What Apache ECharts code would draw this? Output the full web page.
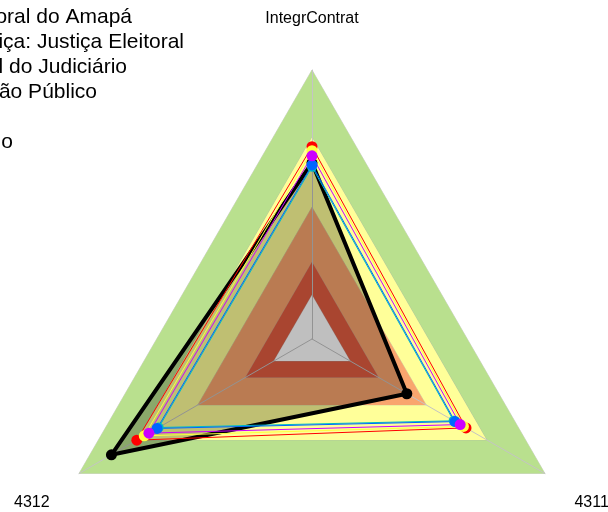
<!DOCTYPE html>
<html>
<head>
<meta charset="utf-8">
<script src="https://cdn.jsdelivr.net/npm/echarts@6/dist/echarts.min.js"></script>
<style>
  html, body { margin: 0; padding: 0; background: #fff; }
  #chart { width: 608px; height: 512px; }
</style>
</head>
<body>
<div id="chart"></div>
<script>
// eixos do radar (ordem do echarts: topo, esquerda, direita)
var indicadores = ['IntegrContrat', '4312', '4311'];

// faixas de fundo (do maior para o menor)
var faixas = [1, 0.75, 0.49, 0.286, 0.164];
var faixasCores = ['#B9E08E', '#FFFF99', '#F9A56E', '#E25C41', '#FFFFFF'];

// séries
var nomes = [
  'Tribunal Regional Eleitoral do Amapá',
  'Segmento de Justiça: Justiça Eleitoral',
  'Poder Judiciário: Total do Judiciário',
  'Total da Administração Público',
  'Referência',
  'Máximo'
];
var treAP      = [0.655, 0.861, 0.407];
var segmento   = [0.715, 0.752, 0.661];
var judiciario = [0.681, 0.700, 0.636];
var publico    = [0.647, 0.665, 0.614];
var referencia = [0.700, 0.720, 0.650];
var maximo     = [0.640, 0.658, 0.608];

// fim do texto de cada legenda (px) e centro vertical
var legendaFim = [132, 184, 127, 97, -10, 13];
var legendaY = [16, 41, 66, 91, 116, 141];

var myChart = echarts.init(document.getElementById('chart'));
var fonte = '"Liberation Sans", Arial, sans-serif';

var legendas = nomes.map(function (n, i) {
  return {
    data: [n],
    right: 608 - legendaFim[i],
    top: legendaY[i] - 9,
    padding: 0,
    itemGap: 0,
    itemWidth: 20,
    itemHeight: 10,
    textStyle: { fontSize: 21, color: '#000', fontFamily: fonte }
  };
});

function serie(nome, valores, cor, largura, tam) {
  return {
    name: nome,
    type: 'radar',
    symbol: 'circle',
    symbolSize: tam,
    z: 4,
    data: [{ value: valores, name: nome }],
    lineStyle: { color: cor, width: largura },
    itemStyle: { color: cor },
    emphasis: { disabled: true }
  };
}

var option = {
  backgroundColor: '#fff',
  animation: false,
  legend: legendas,
  radar: {
    z: 2,
    center: [312, 339],
    radius: 269,
    startAngle: 90,
    shape: 'polygon',
    nameGap: 34,
    indicator: indicadores.map(function (n) { return { name: n, min: 0, max: 1 }; }),
    axisName: {
      color: '#000',
      fontSize: 16,
      fontFamily: fonte,
      formatter: function (v) {
        return v === 'IntegrContrat' ? '{t|' + v + '}' : '{b|' + v + '}';
      },
      rich: {
        t: { fontSize: 16, fontFamily: fonte, color: '#000', padding: [0, 0, 9, 0] },
        b: { fontSize: 16, fontFamily: fonte, color: '#000', padding: [24, 0, 0, 0] }
      }
    },
    splitLine: { show: false },
    splitArea: { show: false },
    axisLine: { lineStyle: { color: '#C4C4C4', width: 1 } },
    axisTick: { show: false },
    axisLabel: { show: false }
  },
  series: [
    {
      name: 'faixas',
      type: 'radar',
      silent: true,
      symbol: 'none',
      z: 1,
      data: faixas.map(function (f, i) {
        return {
          value: [f, f, f],
          areaStyle: { color: faixasCores[i], opacity: 1 },
          lineStyle: { color: 'rgba(170,170,170,0.5)', width: 1 }
        };
      })
    },
    {
      name: nomes[0],
      type: 'radar',
      symbol: 'circle',
      symbolSize: 11,
      z: 3,
      data: [{ value: treAP, name: nomes[0] }],
      lineStyle: { color: '#000', width: 4 },
      itemStyle: { color: '#000' },
      areaStyle: { color: 'rgba(0,0,0,0.25)', opacity: 1 },
      emphasis: { disabled: true }
    },
    serie(nomes[5], maximo, '#00C0C0', 1, 10),
    serie(nomes[1], segmento, '#FF0000', 1, 11),
    serie(nomes[4], referencia, '#FFFF40', 1, 11),
    serie(nomes[3], publico, '#0066FF', 1, 11),
    serie(nomes[2], judiciario, '#CC00FF', 1, 11)
  ]
};

myChart.setOption(option);
window.addEventListener('resize', myChart.resize);
</script>
</body>
</html>
